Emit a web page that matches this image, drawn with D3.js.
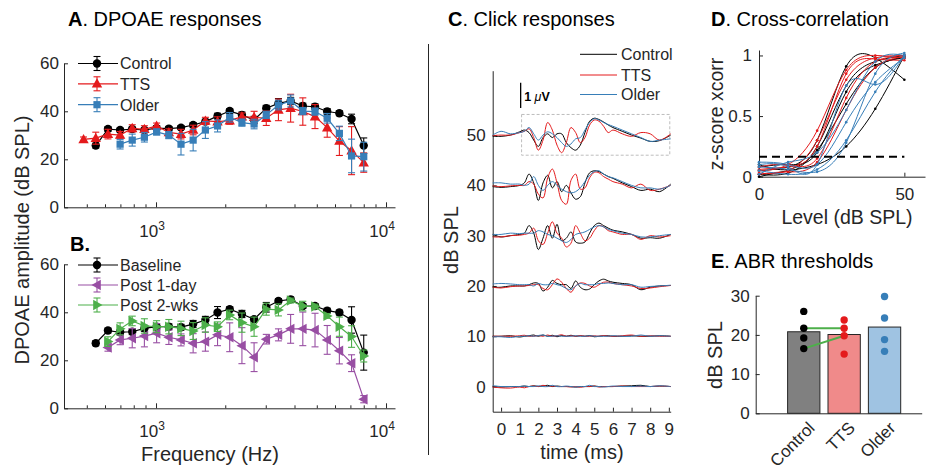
<!DOCTYPE html>
<html><head><meta charset="utf-8">
<script src="https://cdn.jsdelivr.net/npm/d3@7"></script>
<style>body{margin:0;background:#fff}</style>
</head><body><svg id="fig" width="926" height="474"></svg>
<script>
// ---------------- DATA ----------------
const freqs = [484, 547, 618, 698, 788, 890, 1006, 1137, 1284, 1450, 1639, 1851, 2091, 2363, 2669, 3015, 3406, 3848, 4347, 4912, 5549, 6269, 7082, 8000];
// Panel A
const controlA = [null, 25.7, 32.6, 32.2, 32.6, 32.2, 33.0, 32.8, 33.2, 34.3, 35.7, 38.0, 40.1, 38.5, 36.4, 41.3, 43.3, 44.3, 42.2, 41.9, 39.9, 39.2, 36.8, 25.7];
const controlAErr = [null, 1.0, 1.0, 0.8, 0.8, 0.8, 1.0, 0.8, 0.8, 1.0, 1.0, 1.2, 1.0, 1.2, 1.5, 1.2, 2.0, 1.5, 1.2, 1.2, 1.2, 1.0, 2.0, 3.2];
const ttsA = [28.3, 28.8, 30.5, 30.1, 32.9, 32.5, 33.9, 31.2, 30.5, 32.2, 36.0, 35.7, 36.1, 37.8, 37.5, 37.1, 40.6, 41.3, 39.9, 37.8, 33.2, 27.6, 23.6, 18.6];
const ttsAErr = [1.0, 2.5, 2.0, 1.5, 1.5, 1.5, 1.2, 1.5, 2.0, 2.0, 1.5, 2.0, 1.5, 1.5, 2.5, 3.0, 4.5, 5.8, 5.7, 5.0, 4.0, 6.0, 10.0, 4.0];
const olderA = [null, null, null, 26.3, 28.0, 29.2, 31.4, 30.1, 26.3, 28.0, 32.2, 33.9, 37.5, 35.3, 34.7, 38.5, 42.6, 44.3, 40.1, 39.9, 37.1, 30.8, 21.4, 21.1];
const olderAErr = [null, null, null, 2.0, 2.5, 2.0, 1.2, 1.5, 4.5, 4.5, 3.5, 2.5, 2.0, 1.5, 2.0, 1.5, 2.0, 2.5, 1.5, 1.5, 2.0, 3.0, 7.0, 6.0];
// Panel B
const baselineB = [null, 27.1, 32.4, 31.7, 31.9, 33.3, 34.0, 34.0, 33.8, 35.1, 36.8, 39.9, 41.3, 39.3, 37.1, 42.1, 44.7, 45.4, 42.6, 42.6, 40.7, 39.9, 36.8, 23.2];
const baselineBErr = [null, 1.0, 1.0, 1.0, 1.2, 1.2, 1.2, 1.2, 1.2, 1.5, 1.5, 2.5, 1.0, 1.5, 1.0, 2.0, 1.0, 1.0, 1.0, 1.0, 1.0, 1.0, 5.5, 7.3];
const post1B = [null, null, 25.3, 28.5, 29.2, 30.1, 31.3, 29.6, 28.5, 27.1, 27.8, 30.6, 29.6, 26.1, 21.3, 28.8, 30.6, 33.1, 33.1, 32.6, 28.5, 24.0, 18.8, 3.8];
const post1BErr = [null, null, 1.5, 2.0, 4.0, 4.5, 4.0, 3.0, 2.5, 4.0, 4.0, 4.5, 6.0, 7.5, 6.0, 2.0, 2.5, 6.0, 7.0, 7.0, 6.0, 5.5, 3.5, 1.5];
const post2B = [null, null, 27.8, 33.1, 36.4, 34.3, 34.0, 34.0, 33.3, 32.2, 34.7, 34.0, 38.9, 35.7, 34.0, 41.3, 41.0, 44.9, 42.6, 42.4, 38.5, 34.0, 29.9, 21.8];
const post2BErr = [null, null, 2.0, 2.5, 2.0, 3.0, 2.5, 3.0, 3.0, 3.5, 3.0, 2.0, 2.0, 4.0, 4.0, 2.5, 2.5, 1.0, 2.0, 1.0, 1.0, 4.0, 4.5, 2.5];
const freqMinorTicks = [500, 600, 700, 800, 900, 2000, 3000, 4000, 5000, 6000, 7000, 8000, 9000];
const freqMajorTicks = [1000, 10000];

// Panel C : click responses (µV) at each level, time in ms
const abrTime = [-0.45, 0, 0.5, 1, 1.25, 1.5, 1.75, 2, 2.25, 2.5, 2.75, 3, 3.25, 3.5, 3.75, 4, 4.25, 4.5, 4.75, 5, 5.25, 5.5, 5.75, 6, 6.5, 7, 7.5, 8, 8.5, 9.1];
const abrLevels = [50, 40, 30, 20, 10, 0];
const controlTraces = [
  [-0.05, -0.05, 0, 0.13, 0.2, 0.1, -0.2, -0.45, -0.1, 0.05, -0.1, 0.05, 0.05, -0.3, -0.5, -0.6, -0.4, 0.1, 0.55, 0.67, 0.62, 0.52, 0.4, 0.3, 0.15, 0.0, -0.12, -0.25, -0.22, 0.0],
  [-0.05, -0.08, -0.05, 0, 0.1, 0.45, 0.1, -0.6, 0.1, 0.4, -0.1, 0.15, -0.25, 0.0, -0.3, -0.55, -0.45, 0.1, 0.5, 0.58, 0.55, 0.45, 0.35, 0.28, 0.1, -0.05, -0.2, -0.15, -0.25, 0.05],
  [0.05, -0.05, 0, 0.05, 0.1, 0.4, 0.1, -0.55, -0.1, 0.4, -0.1, 0.45, -0.2, -0.1, 0.15, -0.25, -0.3, -0.25, 0.1, 0.4, 0.5, 0.4, 0.3, 0.22, 0.15, 0.05, -0.1, -0.08, -0.1, 0.05],
  [-0.05, -0.05, 0, 0, 0, 0.05, 0.12, 0.1, -0.2, -0.05, 0.22, 0.1, 0.05, 0.05, -0.1, 0.2, -0.05, -0.15, -0.12, 0.05, 0.2, 0.27, 0.2, 0.15, 0.1, 0.05, -0.15, -0.05, 0, 0.02],
  [0.0, 0.0, 0.02, -0.03, 0.0, 0.02, 0.05, 0.0, 0.05, 0.0, 0.04, -0.02, 0.03, 0.0, 0.04, 0.0, 0.02, 0.0, 0.03, -0.02, 0.0, 0.02, 0.02, 0.0, 0.0, 0.02, 0.0, 0.0, 0.02, 0.0],
  [0.0, -0.02, 0.0, 0.0, 0.02, 0.0, 0.03, 0.0, 0.02, 0.05, 0.0, 0.02, 0.0, 0.0, 0.0, -0.02, 0.0, 0.0, 0.0, 0.02, 0.0, 0.0, 0.0, 0.0, 0.02, 0.03, 0.05, 0.0, 0.02, 0.0]
];
const ttsTraces = [
  [-0.02, 0, 0, 0.1, 0.15, 0.25, -0.1, -0.6, -0.2, 0.5, 0.2, -0.4, -0.7, -0.3, 0.3, 0.1, -0.3, -0.1, 0.4, 0.6, 0.55, 0.35, 0.1, 0.2, 0.05, -0.05, 0.1, 0.05, -0.2, 0.05],
  [-0.02, -0.05, -0.02, 0, 0, 0.15, 0.05, -0.35, -0.5, 0.3, 0.65, 0.1, -0.6, -0.75, 0.2, 0.45, -0.15, -0.1, 0.3, 0.52, 0.5, 0.35, 0.25, 0.15, 0.05, -0.1, 0.05, -0.2, -0.15, 0],
  [-0.05, -0.05, 0, 0.02, 0.05, 0.1, 0.3, -0.2, -0.35, 0.1, 0.55, 0.1, -0.1, -0.45, -0.3, 0.4, 0.1, -0.2, -0.1, 0.2, 0.4, 0.35, 0.2, 0.15, 0.05, 0.05, -0.15, 0.0, -0.05, 0.0],
  [-0.05, -0.08, -0.03, 0, 0, 0.02, 0.05, 0.05, -0.1, -0.15, 0.05, 0.28, 0.15, -0.1, -0.25, 0, 0.12, 0.1, 0, -0.05, 0.05, 0.15, 0.15, 0.1, 0.05, 0, -0.1, -0.08, -0.03, 0.02],
  [0.0, 0.0, 0.0, 0.02, 0.04, 0.0, 0.0, 0.03, 0.0, 0.05, 0.0, 0.02, 0.06, 0.0, 0.02, 0.0, 0.03, 0.0, 0.0, 0.02, 0.0, 0.03, 0.0, 0.0, 0.02, 0.05, 0.0, 0.02, 0.0, 0.0],
  [-0.02, -0.05, -0.06, -0.02, -0.05, 0.0, 0.02, 0.0, 0.05, 0.0, 0.02, 0.0, 0.0, 0.0, -0.02, 0.0, -0.03, 0.0, 0.0, 0.02, -0.02, 0.0, 0.0, 0.0, 0.02, 0.0, 0.0, 0.0, 0.02, 0.0]
];
const olderTraces = [
  [0, 0.15, 0.05, 0.1, 0.15, 0.3, 0.05, -0.2, 0.0, 0.13, 0.05, -0.1, -0.3, -0.45, -0.35, -0.15, -0.1, 0.2, 0.5, 0.65, 0.6, 0.5, 0.42, 0.35, 0.2, 0.05, -0.1, -0.25, -0.2, -0.15],
  [0.1, 0.1, 0.05, 0.05, 0.0, 0.05, 0.35, 0.0, -0.2, 0.0, 0.15, 0.0, -0.15, -0.25, -0.3, -0.25, -0.1, 0.15, 0.4, 0.55, 0.58, 0.45, 0.35, 0.3, 0.15, 0.0, -0.1, -0.1, -0.15, 0.0],
  [0.05, 0.05, 0.1, 0.08, 0.1, 0.1, 0.1, 0.2, 0.15, 0.05, 0.0, -0.1, -0.2, -0.27, -0.15, 0.05, 0.1, 0.15, 0.25, 0.35, 0.4, 0.35, 0.25, 0.2, 0.1, 0.05, -0.05, -0.05, 0.0, 0.05],
  [0.08, 0.1, 0.08, 0.05, 0.05, 0.05, 0, 0.1, 0.05, 0.05, 0.1, 0.05, 0, -0.1, -0.15, 0, 0.1, 0.05, 0.05, 0.05, 0.1, 0.1, 0.12, 0.1, 0.05, 0.05, -0.05, -0.02, 0, 0.03],
  [-0.02, -0.02, -0.05, 0.0, 0.0, 0.02, 0.0, 0.03, 0.05, 0.0, 0.0, 0.02, 0.0, 0.0, 0.0, 0.02, 0.0, 0.0, 0.02, 0.0, 0.0, 0.0, 0.0, 0.02, 0.0, 0.0, 0.05, 0.0, 0.02, 0.0],
  [0.04, 0.0, 0.0, 0.0, 0.02, 0.0, 0.0, 0.03, 0.0, 0.0, 0.05, 0.0, 0.0, 0.02, 0.0, -0.02, 0.0, 0.0, 0.05, 0.0, 0.0, -0.02, 0.0, 0.02, 0.0, 0.0, 0.02, 0.0, 0.03, 0.0]
];
const timeTicks = [0, 1, 2, 3, 4, 5, 6, 7, 8, 9];
const levelTicks = [0, 10, 20, 30, 40, 50];

// Panel D : cross-correlation vs level
const xcorrLevels = [0, 10, 20, 30, 40, 50];
const xcorrControl = [
  [0.05, 0.08, 0.3, 0.91, 0.98, 0.8],
  [0.02, 0.03, 0.25, 0.75, 0.95, 1.0],
  [0.08, 0.10, 0.2, 0.7, 0.92, 0.99],
  [0.0, 0.05, 0.1, 0.25, 0.56, 1.0],
  [0.1, 0.06, 0.22, 0.6, 0.9, 0.98]
];
const xcorrTTS = [
  [0.05, 0.1, 0.38, 0.88, 1.0, 0.98],
  [0.03, 0.05, 0.3, 0.8, 0.98, 1.0],
  [0.08, 0.1, 0.15, 0.65, 0.95, 0.98],
  [0.02, 0.04, 0.12, 0.55, 0.9, 0.99],
  [0.06, 0.08, 0.25, 0.85, 0.97, 0.96]
];
const xcorrOlder = [
  [0.1, 0.08, 0.1, 0.75, 0.76, 1.0],
  [0.05, 0.02, 0.06, 0.3, 0.7, 1.0],
  [0.12, 0.1, 0.1, 0.45, 0.78, 0.98],
  [0.02, 0.12, 0.2, 0.55, 0.95, 1.0],
  [0.08, 0.06, 0.04, 0.28, 0.85, 1.02]
];
const xcorrCriterion = 0.165;

// Panel E : ABR thresholds
const groups = ["Control", "TTS", "Older"];
const thresholdMeans = [20.8, 20.1, 22.0];
const thresholdsControl = [26.0, 21.7, 19.2, 16.5];
const thresholdsTTS = [23.8, 21.7, 19.8, 15.1];
const thresholdsOlder = [29.8, 24.3, 18.8, 15.8];
const pairedLinks = [[21.7, 21.7], [16.5, 19.8]];

// ---------------- DRAWING ----------------
const FONT = '"Liberation Sans", Arial, Helvetica, sans-serif';
const INK = '#262626';
const C_BLACK = '#000000', C_RED = '#e41a1c', C_BLUE = '#377eb8', C_PURPLE = '#984ea3', C_GREEN = '#4daf4a';
const TICK_FS = 17, TITLE_FS = 20, LABEL_FS = 20, LEG_FS = 16;
const svg = d3.select('#fig');

function styleAxis(g, fs) {
  g.attr('color', INK).attr('font-family', FONT).attr('font-size', fs);
  g.selectAll('text').attr('fill', INK);
  g.selectAll('path.domain, .tick line').attr('stroke-width', 1);
}
function txt(x, y, s, fs, opts = {}) {
  const t = svg.append('text').attr('x', x).attr('y', y).attr('font-family', FONT)
    .attr('font-size', fs).attr('fill', INK).attr('text-anchor', opts.anchor || 'start');
  if (opts.rotate) t.attr('transform', `rotate(${opts.rotate},${x},${y})`);
  t.text(s);
  return t;
}
function title(x, y, letter, rest) {
  const t = svg.append('text').attr('x', x).attr('y', y).attr('font-family', FONT).attr('font-size', TITLE_FS).attr('fill', '#000');
  t.append('tspan').attr('font-weight', 'bold').text(letter);
  t.append('tspan').text(rest);
}
function marker(g, shape, x, y, color) {
  if (shape === 'circle') g.append('circle').attr('cx', x).attr('cy', y).attr('r', 4.2).attr('fill', color);
  else if (shape === 'square') g.append('rect').attr('x', x - 3.6).attr('y', y - 3.6).attr('width', 7.2).attr('height', 7.2).attr('fill', color);
  else {
    let p;
    if (shape === 'up') p = `M${x},${y - 5.5}L${x + 5.2},${y + 3.8}L${x - 5.2},${y + 3.8}Z`;
    if (shape === 'left') p = `M${x - 5.5},${y}L${x + 3.8},${y - 5.2}L${x + 3.8},${y + 5.2}Z`;
    if (shape === 'right') p = `M${x + 5.5},${y}L${x - 3.8},${y - 5.2}L${x - 3.8},${y + 5.2}Z`;
    g.append('path').attr('d', p).attr('fill', color);
  }
}
function errBar(g, x, y1, y2, color) {
  g.append('line').attr('x1', x).attr('x2', x).attr('y1', y1).attr('y2', y2).attr('stroke', color).attr('stroke-width', 1.1);
  [y1, y2].forEach(yy => g.append('line').attr('x1', x - 3.5).attr('x2', x + 3.5).attr('y1', yy).attr('y2', yy).attr('stroke', color).attr('stroke-width', 1.1));
}

// ---- Panels A & B ----
const xF = d3.scaleLog().domain([398, 10940]).range([64, 395]);
const yA = d3.scaleLinear().domain([0, 60]).range([207.3, 63.3]);
const yB = d3.scaleLinear().domain([0, 60]).range([408.3, 264.3]);

function dpoaeAxes(y, labelBase) {
  const gy = svg.append('g').attr('transform', 'translate(64,0)')
    .call(d3.axisLeft(y).tickValues([0, 20, 40, 60]).tickSizeInner(-4).tickSizeOuter(0).tickPadding(5));
  styleAxis(gy, TICK_FS);
  const gx = svg.append('g').attr('transform', `translate(0,${y(0)})`)
    .call(d3.axisBottom(xF).tickValues(freqMinorTicks.concat(freqMajorTicks)).tickFormat(() => '').tickSizeInner(-3).tickSizeOuter(0));
  gx.selectAll('.tick line').attr('y2', d => freqMajorTicks.includes(d) ? -5 : -3);
  styleAxis(gx, TICK_FS);
  freqMajorTicks.forEach(v => {
    const t = svg.append('text').attr('x', xF(v) - 4).attr('y', labelBase).attr('text-anchor', 'middle')
      .attr('font-family', FONT).attr('font-size', TICK_FS).attr('fill', INK);
    t.append('tspan').text('10');
    t.append('tspan').attr('dy', -7).attr('font-size', 12).text(String(Math.round(Math.log10(v))));
  });
}
function dpoaeSeries(y, vals, errs, color, shape) {
  const pts = freqs.map((f, i) => ({ f, v: vals[i], e: errs[i] })).filter(d => d.v != null);
  const g = svg.append('g');
  pts.forEach(d => errBar(g, xF(d.f), y(d.v + d.e), y(d.v - d.e), color));
  g.append('path').datum(pts).attr('fill', 'none').attr('stroke', color).attr('stroke-width', 1.2)
    .attr('d', d3.line().x(d => xF(d.f)).y(d => y(d.v)));
  pts.forEach(d => marker(g, shape, xF(d.f), y(d.v), color));
}
function legendEntry(y, color, shape, label) {
  const g = svg.append('g');
  g.append('line').attr('x1', 78).attr('x2', 118).attr('y1', y).attr('y2', y).attr('stroke', color).attr('stroke-width', 1.2);
  errBar(g, 97, y - 7, y + 7, color);
  marker(g, shape, 97, y, color);
  txt(120, y + 5.8, label, LEG_FS);
}

dpoaeAxes(yA, 236.5);
dpoaeSeries(yA, controlA, controlAErr, C_BLACK, 'circle');
dpoaeSeries(yA, ttsA, ttsAErr, C_RED, 'up');
dpoaeSeries(yA, olderA, olderAErr, C_BLUE, 'square');
legendEntry(63.5, C_BLACK, 'circle', 'Control');
legendEntry(83.8, C_RED, 'up', 'TTS');
legendEntry(104.7, C_BLUE, 'square', 'Older');

dpoaeAxes(yB, 437);
dpoaeSeries(yB, baselineB, baselineBErr, C_BLACK, 'circle');
dpoaeSeries(yB, post1B, post1BErr, C_PURPLE, 'left');
dpoaeSeries(yB, post2B, post2BErr, C_GREEN, 'right');
legendEntry(265, C_BLACK, 'circle', 'Baseline');
legendEntry(285, C_PURPLE, 'left', 'Post 1-day');
legendEntry(305, C_GREEN, 'right', 'Post 2-wks');

title(68, 26, 'A', '. DPOAE responses');
svg.append('text').attr('x', 70).attr('y', 251).attr('font-family', FONT).attr('font-size', TITLE_FS).attr('font-weight', 'bold').attr('fill', '#000').text('B.');
txt(28.5, 240, 'DPOAE amplitude (dB SPL)', LABEL_FS, { anchor: 'middle', rotate: -90 });
txt(210, 461, 'Frequency (Hz)', LABEL_FS, { anchor: 'middle' });

// separator
svg.append('line').attr('x1', 428.5).attr('x2', 428.5).attr('y1', 44).attr('y2', 455).attr('stroke', INK).attr('stroke-width', 1);

// ---- Panel C ----
const xT = d3.scaleLinear().domain([-0.45, 9.1]).range([492.7, 670.7]);
const yC = d3.scaleLinear().domain([-5, 62.8]).range([411.7, 70.7]);
const dbPerMicroVolt = 5;
{
  const gy = svg.append('g').attr('transform', 'translate(492.7,0)')
    .call(d3.axisLeft(yC).tickValues(levelTicks).tickSizeInner(-4).tickSizeOuter(0).tickPadding(7));
  styleAxis(gy, TICK_FS);
  const gx = svg.append('g').attr('transform', 'translate(0,411.7)')
    .call(d3.axisBottom(xT).tickValues(timeTicks).tickSizeInner(-4).tickSizeOuter(0).tickPadding(11));
  styleAxis(gx, TICK_FS);
  svg.append('rect').attr('x', xT(1.1)).attr('y', yC(54.1)).attr('width', xT(9.05) - xT(1.1)).attr('height', yC(46) - yC(54.1))
    .attr('fill', 'none').attr('stroke', '#bdbdbd').attr('stroke-width', 1).attr('stroke-dasharray', '3,2');
  const line = d3.line().curve(d3.curveCatmullRom.alpha(0.5));
  const sets = [[controlTraces, C_BLACK], [ttsTraces, C_RED], [olderTraces, C_BLUE]];
  abrLevels.forEach((lv, li) => {
    sets.forEach(([tr, col]) => {
      const pts = abrTime.map((t, i) => [xT(t), yC(lv + tr[li][i] * dbPerMicroVolt)]);
      svg.append('path').attr('d', line(pts)).attr('fill', 'none').attr('stroke', col).attr('stroke-width', 1);
    });
  });
  svg.append('line').attr('x1', xT(1.05)).attr('x2', xT(1.05)).attr('y1', yC(55.4)).attr('y2', yC(55.4 + dbPerMicroVolt))
    .attr('stroke', '#000').attr('stroke-width', 1.3);
  const sb = svg.append('text').attr('x', xT(1.05) + 3.5).attr('y', 100.5).attr('font-family', FONT).attr('font-size', 12.5).attr('fill', '#000').attr('font-weight', 'bold');
  sb.append('tspan').text('1 ');
  sb.append('tspan').attr('font-style', 'italic').attr('font-weight', 'normal').text('\u03bc');
  sb.append('tspan').text('V');
  [['Control', C_BLACK, 54.3], ['TTS', C_RED, 75], ['Older', C_BLUE, 94.5]].forEach(([l, c, y]) => {
    svg.append('line').attr('x1', 580).attr('x2', 617).attr('y1', y).attr('y2', y).attr('stroke', c).attr('stroke-width', 1);
    txt(621, y + 5.8, l, LEG_FS);
  });
  title(448, 26, 'C', '. Click responses');
  txt(458, 240, 'dB SPL', LABEL_FS, { anchor: 'middle', rotate: -90 });
  txt(582, 458.5, 'time (ms)', LABEL_FS, { anchor: 'middle' });
}

// ---- Panel D ----
const xD = d3.scaleLinear().domain([0, 57.1]).range([759, 925]);
const yD = d3.scaleLinear().domain([0, 1.045]).range([176.7, 50]);
{
  const gy = svg.append('g').attr('transform', 'translate(759,0)')
    .call(d3.axisLeft(yD).tickValues([0, 0.5, 1]).tickFormat(d3.format('~g')).tickSizeInner(-4).tickSizeOuter(0).tickPadding(7));
  styleAxis(gy, TICK_FS);
  const gx = svg.append('g').attr('transform', 'translate(0,176.7)')
    .call(d3.axisBottom(xD).tickValues([0, 50]).tickSizeInner(-4).tickSizeOuter(0).tickPadding(11));
  styleAxis(gx, TICK_FS);
  const line = d3.line().curve(d3.curveNatural);
  const sets = [[xcorrControl, C_BLACK], [xcorrTTS, C_RED], [xcorrOlder, C_BLUE]];
  sets.forEach(([curves, col]) => curves.forEach(c => {
    const pts = xcorrLevels.map((l, i) => [xD(l), yD(c[i])]);
    svg.append('path').attr('d', line(pts)).attr('fill', 'none').attr('stroke', col).attr('stroke-width', 1);
    pts.forEach(p => svg.append('circle').attr('cx', p[0]).attr('cy', p[1]).attr('r', 1.3).attr('fill', col));
  }));
  svg.append('line').attr('x1', xD(0)).attr('x2', xD(50)).attr('y1', yD(xcorrCriterion)).attr('y2', yD(xcorrCriterion))
    .attr('stroke', '#000').attr('stroke-width', 2).attr('stroke-dasharray', '8,5');
  title(711, 26, 'D', '. Cross-correlation');
  txt(723, 114, 'z-score xcorr', 19.5, { anchor: 'middle', rotate: -90 });
  txt(847, 224, 'Level (dB SPL)', 19.5, { anchor: 'middle' });
}

// ---- Panel E ----
const xE = d3.scaleLinear().domain([-0.19, 3.92]).range([755.7, 921.7]);
const yE = d3.scaleLinear().domain([0, 30]).range([413.3, 295.7]);
{
  const gy = svg.append('g').attr('transform', 'translate(755.7,0)')
    .call(d3.axisLeft(yE).tickValues([0, 10, 20, 30]).tickSizeInner(-4).tickSizeOuter(0).tickPadding(6));
  styleAxis(gy, TICK_FS);
  const gx = svg.append('g').attr('transform', 'translate(0,413.3)')
    .call(d3.axisBottom(xE).tickValues([]).tickSizeOuter(0));
  styleAxis(gx, TICK_FS);
  const fills = ['#808080', '#f08a8a', '#9fc3e2'];
  const dotCols = [C_BLACK, C_RED, C_BLUE];
  const dotSets = [thresholdsControl, thresholdsTTS, thresholdsOlder];
  groups.forEach((gname, i) => {
    const cx = i + 1;
    svg.append('rect').attr('x', xE(cx - 0.4)).attr('y', yE(thresholdMeans[i])).attr('width', xE(cx + 0.4) - xE(cx - 0.4))
      .attr('height', yE(0) - yE(thresholdMeans[i])).attr('fill', fills[i]).attr('stroke', INK).attr('stroke-width', 1);
  });
  pairedLinks.forEach(([a, b]) => svg.append('line').attr('x1', xE(1)).attr('x2', xE(2)).attr('y1', yE(a)).attr('y2', yE(b))
    .attr('stroke', C_GREEN).attr('stroke-width', 2));
  groups.forEach((gname, i) => {
    const cx = i + 1;
    dotSets[i].forEach(v => svg.append('circle').attr('cx', xE(cx)).attr('cy', yE(v)).attr('r', 3.7).attr('fill', dotCols[i]));
    txt(xE(cx) + 12, 429, gname, TICK_FS, { anchor: 'end', rotate: -45 });
  });
  title(711, 268, 'E', '. ABR thresholds');
  txt(722, 355, 'dB SPL', LABEL_FS, { anchor: 'middle', rotate: -90 });
}
</script></body></html>
